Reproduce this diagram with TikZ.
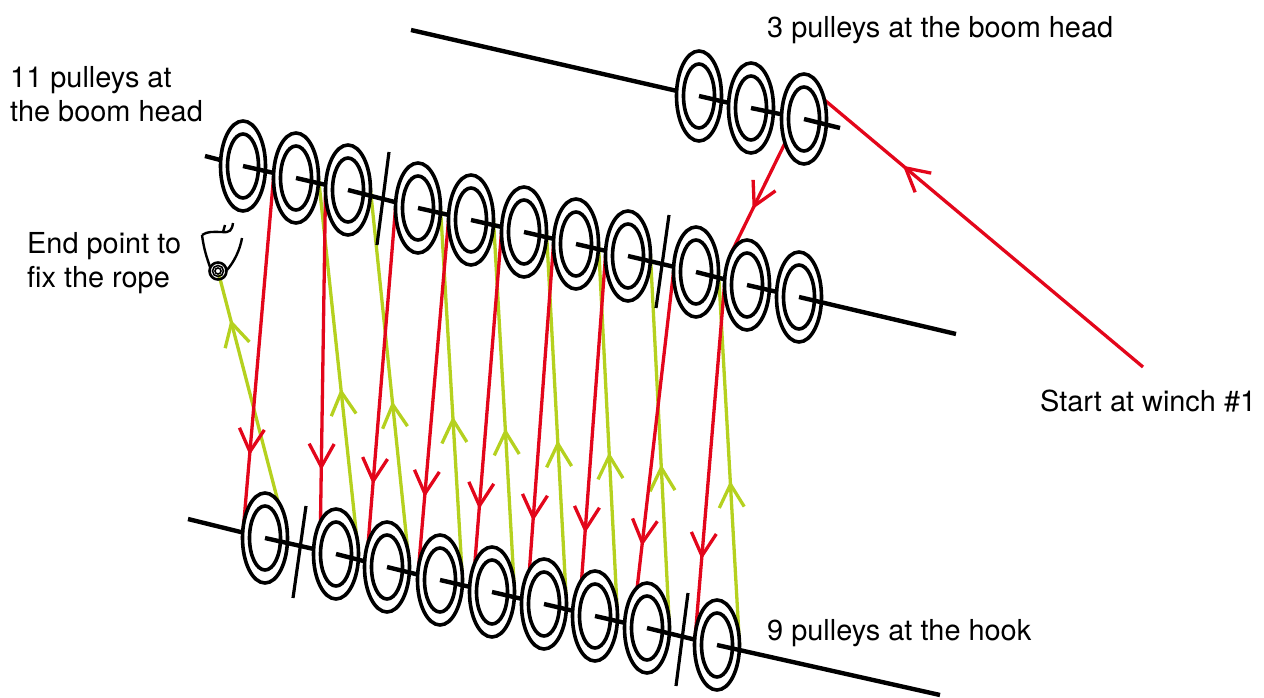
\documentclass[tikz,border=0pt]{standalone}
\usepackage{fontspec}
\setmainfont{TeX Gyre Heros}
\usepackage{tikz}
\usetikzlibrary{arrows.meta}
\usetikzlibrary{scopes}
\usetikzlibrary{shapes.geometric}
\usetikzlibrary{backgrounds}
\usetikzlibrary{decorations.markings}

\definecolor{ropered}{RGB}{227,6,27}
\definecolor{ropegreen}{RGB}{181,209,31}

\tikzset{
  rope tip/.tip={Straight Barb[length=23pt,width=25pt,line width=3.3pt]},
  tipat/.style={postaction={decorate},
                decoration={markings,mark=at position #1 with {\arrow{rope tip}}}},
  pulley/.style={ellipse,draw,fill=white,line width=3.6pt,inner sep=0pt,outer sep=0pt,
                 minimum width=45pt,minimum height=90pt,
                 path picture={\draw[line width=3.6pt] (path picture bounding box.center) ellipse (15.5pt and 32pt);}},
  axle/.style={line width=4.4pt,shorten >=22pt},
  bar/.style={line width=4.4pt},
  cut/.style={line width=3.2pt},
  caption/.style={anchor=west,align=left,inner sep=0pt,font=\fontsize{28.9}{34}\selectfont}
}

\begin{document}
\begin{tikzpicture}[x=1pt,y=-1pt]
\useasboundingbox (0,0) rectangle (1264,698);

\begin{scope}[every node/.style={pulley}]
    \node (S1) at (699,96) {};
    \node (S2) at (751,108) {};
    \node (S3) at (804,119) {};

    \node (T1) at (243,166) {};
    \node (T2) at (296,178) {};
    \node (T3) at (348,190) {};
    \node (T4) at (418,208) {};
    \node (T5) at (471,220) {};
    \node (T6) at (524,232) {};
    \node (T7) at (576,244) {};
    \node (T8) at (628,256) {};
    \node (T9) at (696,272) {};
    \node (T10) at (747,285) {};
    \node (T11) at (799,297) {};

    \node (H1) at (265,538) {};
    \node (H2) at (336,554) {};
    \node (H3) at (387,567) {};
    \node (H4) at (440,580) {};
    \node (H5) at (492,592) {};
    \node (H6) at (544,604) {};
    \node (H7) at (595,616) {};
    \node (H8) at (647,628) {};
    \node (H9) at (717,645) {};
\end{scope}

\coordinate (Sstart) at (411,30);
\coordinate (Send) at (840,128);
\coordinate (Tstart) at (205,156);
\coordinate (Tend) at (956,334);
\coordinate (Hstart) at (188,519);
\coordinate (Hend) at (940,695);

\draw [axle] (Sstart) -- (S1.center);
\draw [axle] (S1.center) -- (S2.center);
\draw [axle] (S2.center) -- (S3.center);
\draw [bar] (S3.center) -- (Send);

\draw [axle] (Tstart) -- (T1.center);
\draw [axle] (T1.center) -- (T2.center);
\draw [axle] (T2.center) -- (T3.center);
\draw [axle] (T3.center) -- (T4.center);
\draw [axle] (T4.center) -- (T5.center);
\draw [axle] (T5.center) -- (T6.center);
\draw [axle] (T6.center) -- (T7.center);
\draw [axle] (T7.center) -- (T8.center);
\draw [axle] (T8.center) -- (T9.center);
\draw [axle] (T9.center) -- (T10.center);
\draw [axle] (T10.center) -- (T11.center);
\draw [bar] (T11.center) -- (Tend);

\draw [axle] (Hstart) -- (H1.center);
\draw [axle] (H1.center) -- (H2.center);
\draw [axle] (H2.center) -- (H3.center);
\draw [axle] (H3.center) -- (H4.center);
\draw [axle] (H4.center) -- (H5.center);
\draw [axle] (H5.center) -- (H6.center);
\draw [axle] (H6.center) -- (H7.center);
\draw [axle] (H7.center) -- (H8.center);
\draw [axle] (H8.center) -- (H9.center);
\draw [bar] (H9.center) -- (Hend);

\coordinate (C1a) at (389,152);
\coordinate (C1b) at (377,245);
\coordinate (C2a) at (669,215);
\coordinate (C2b) at (656,308);
\coordinate (C3a) at (306,506);
\coordinate (C3b) at (293,598);
\coordinate (C4a) at (688,593);
\coordinate (C4b) at (676,686);
\draw [cut] (C1a) -- (C1b);
\draw [cut] (C2a) -- (C2b);
\draw [cut] (C3a) -- (C3b);
\draw [cut] (C4a) -- (C4b);

\node [circle,draw,line width=1.6pt,inner sep=0pt,minimum size=6pt] (eye) at (218,271) {};
\draw [line width=1.6pt] (eye) circle (5.5pt);
\draw [line width=2.6pt] (eye) circle (8.5pt);
\draw [line width=2.4pt] (202,235) .. controls (204,250) and (207,258) .. (210,267);
\draw [line width=2.4pt] (242,238) .. controls (240,250) and (234,262) .. (227,270);
\draw [line width=2.4pt] (202,235) .. controls (208,231) and (213,232) .. (222,232) .. controls (230,233) and (232,230) .. (233,223);
\draw [line width=2.4pt] (225,225) -- (223,232);

\coordinate (winch) at (1143,367);
\coordinate (S3in) at (815,92);
\coordinate (S3out) at (786,141);

\begin{scope}[on background layer,every edge/.style={draw,color=ropegreen,line width=3.3pt}]
    \path (H1.east) edge [tipat=.83] (eye);
    \path (H2.east) edge [tipat=.44] (T2.east);
    \path (H3.east) edge [tipat=.44] (T3.east);
    \path (H4.east) edge [tipat=.44] (T4.east);
    \path (H5.east) edge [tipat=.44] (T5.east);
    \path (H6.east) edge [tipat=.44] (T6.east);
    \path (H7.east) edge [tipat=.44] (T7.east);
    \path (H8.east) edge [tipat=.44] (T8.east);
    \path (H9.east) edge [tipat=.44] (T9.east);
\end{scope}

\begin{scope}[on background layer,every edge/.style={draw,color=ropered,line width=3.3pt}]
    \path (winch) edge [tipat=.732] (S3in);
    \path (S3out) edge [tipat=.607] (T10.north west);
    \path (T2.west) edge [tipat=.77] (H1.west);
    \path (T3.west) edge [tipat=.77] ([xshift=6.5pt]H2.west);
    \path (T4.west) edge [tipat=.77] ([xshift=1.7pt]H3.west);
    \path (T5.west) edge [tipat=.77] (H4.west);
    \path (T6.west) edge [tipat=.77] ([xshift=3pt]H5.west);
    \path (T7.west) edge [tipat=.77] ([xshift=5.4pt]H6.west);
    \path (T8.west) edge [tipat=.77] ([xshift=6.4pt]H7.west);
    \path (T9.west) edge [tipat=.77] ([xshift=8pt]H8.west);
    \path (T10.west) edge [tipat=.762] (H9.west);
\end{scope}

\node [caption] (top3) at (767,30) {3 pulleys at the boom head};
\node [caption] (top11) at (10,94.5) {11 pulleys at\\the boom head};
\node [caption] (fix) at (27,263) {End point to\\fix the rope};
\node [caption] (start) at (1040,400.5) {Start at winch \#1};
\node [caption] (hook) at (767,633) {9 pulleys at the hook};
\end{tikzpicture}
\end{document}
